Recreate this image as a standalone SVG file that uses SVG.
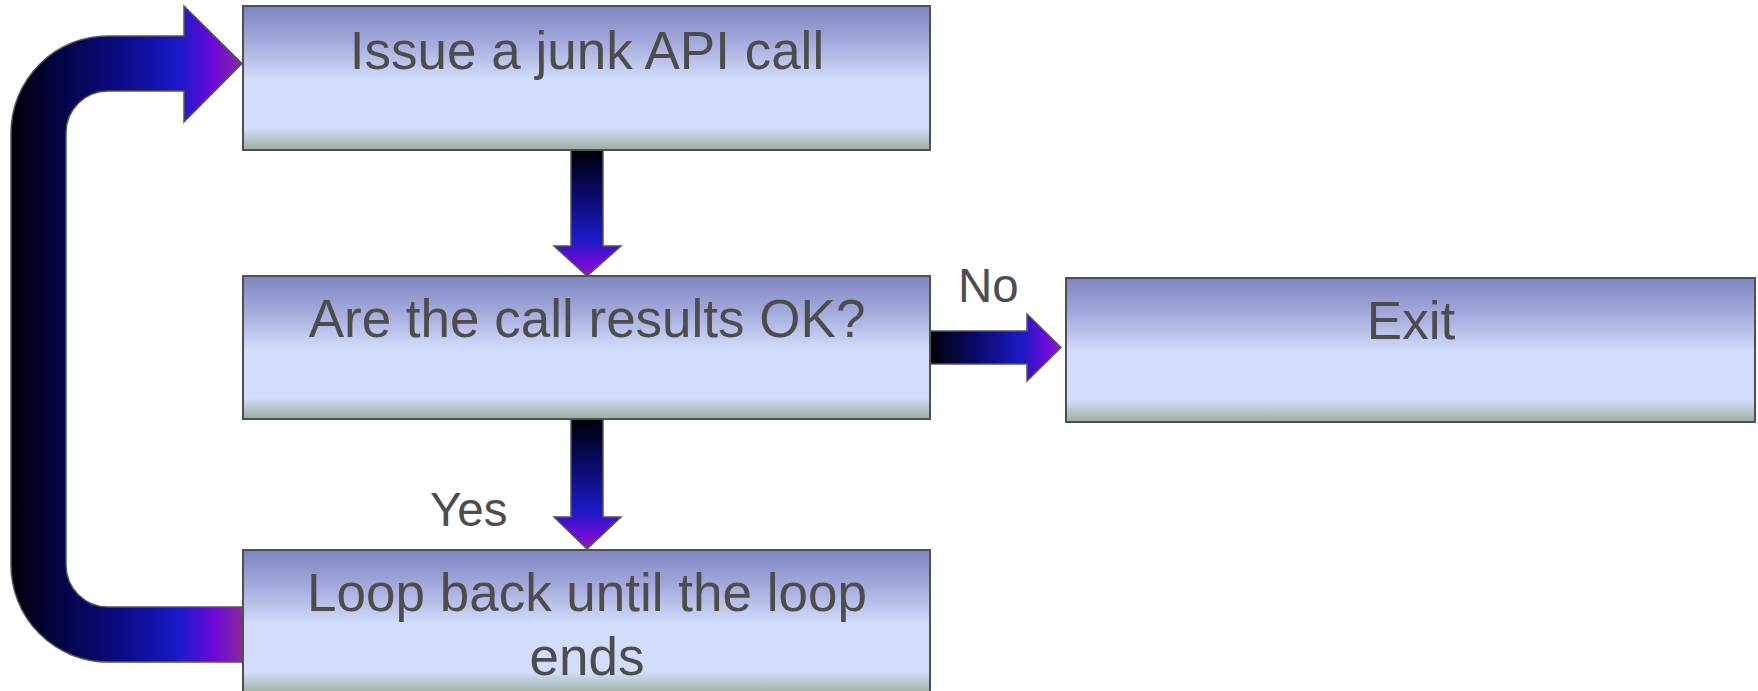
<svg xmlns="http://www.w3.org/2000/svg" width="1758" height="691" viewBox="0 0 1758 691">
<defs>
<linearGradient id="boxg" x1="0" y1="0" x2="0" y2="1">
<stop offset="0" stop-color="#8084c0"/>
<stop offset="0.25" stop-color="#a4aadc"/>
<stop offset="0.52" stop-color="#d3ddfb"/>
<stop offset="0.85" stop-color="#d3ddfb"/>
<stop offset="1" stop-color="#9aae9c"/>
</linearGradient>
<linearGradient id="vg" x1="0" y1="0" x2="0" y2="1">
<stop offset="0" stop-color="#000008"/>
<stop offset="0.35" stop-color="#0a0a6a"/>
<stop offset="0.7" stop-color="#1a1ac4"/>
<stop offset="0.9" stop-color="#7008d8"/>
<stop offset="1" stop-color="#8424b0"/>
</linearGradient>
<linearGradient id="hg" x1="0" y1="0" x2="1" y2="0">
<stop offset="0" stop-color="#000008"/>
<stop offset="0.35" stop-color="#0a0a6a"/>
<stop offset="0.7" stop-color="#1a1ac4"/>
<stop offset="0.9" stop-color="#7008d8"/>
<stop offset="1" stop-color="#8424b0"/>
</linearGradient>
<linearGradient id="loopg" gradientUnits="userSpaceOnUse" x1="11" y1="0" x2="243" y2="0">
<stop offset="0" stop-color="#000008"/>
<stop offset="0.25" stop-color="#050550"/>
<stop offset="0.5" stop-color="#0c0c8c"/>
<stop offset="0.72" stop-color="#1a1ac8"/>
<stop offset="0.88" stop-color="#7008d8"/>
<stop offset="1" stop-color="#8a2a9a"/>
</linearGradient>
</defs>
<style>
.box{fill:url(#boxg);stroke:#505050;stroke-width:2}
.t{font-family:"Liberation Sans",Arial,sans-serif;font-size:53px;fill:#4d4d4d;text-anchor:middle}
.lbl{font-family:"Liberation Sans",Arial,sans-serif;font-size:47.5px;fill:#4d4d4d}
.arr{stroke:#555555;stroke-width:1.5;stroke-linejoin:miter}
</style>
<g id="connectors">
<path class="arr" fill="url(#loopg)" d="M243 607 L108 607 A42 42 0 0 1 66 565 L66 133 A42 42 0 0 1 108 91 L184 91 L184 122 L242 63.5 L184 6 L184 36 L108 36 A97 97 0 0 0 11 133 L11 565 A97 97 0 0 0 108 662 L243 662 Z"/>
<path class="arr" fill="url(#vg)" d="M571 150 L603 150 L603 246 L621 246 L587 276 L554 246 L571 246 Z"/>
<path class="arr" fill="url(#vg)" d="M571 419 L603 419 L603 517 L621 517 L587 549 L554 517 L571 517 Z"/>
<path class="arr" fill="url(#hg)" d="M930 331 L1027 331 L1027 314 L1061 347.5 L1027 381 L1027 364 L930 364 Z"/>
<text class="lbl" x="958" y="302">No</text>
<text class="lbl" x="430" y="526">Yes</text>
</g>
<g id="node-issue">
<rect class="box" x="243" y="6" width="687" height="144"/>
<text class="t" x="587" y="69">Issue a junk API call</text>
</g>
<g id="node-check">
<rect class="box" x="243" y="276" width="687" height="143"/>
<text class="t" x="587" y="337">Are the call results OK?</text>
</g>
<g id="node-exit">
<rect class="box" x="1066" y="278" width="689" height="144"/>
<text class="t" x="1411" y="339">Exit</text>
</g>
<g id="node-loop">
<rect class="box" x="243" y="550" width="687" height="144"/>
<text class="t" x="587" y="611">Loop back until the loop</text>
<text class="t" x="587" y="675">ends</text>
</g>
</svg>
